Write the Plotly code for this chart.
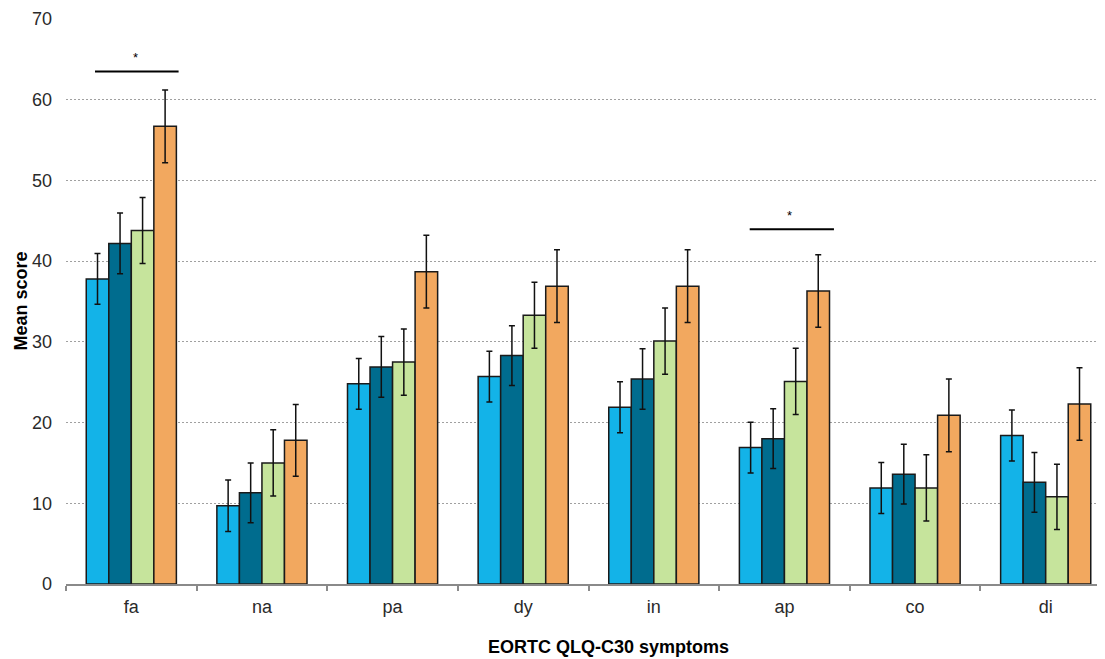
import plotly.graph_objects as go

categories = ["fa", "na", "pa", "dy", "in", "ap", "co", "di"]
series_names = ["Group 1", "Group 2", "Group 3", "Group 4"]
values_1 = [37.8, 9.7, 24.8, 25.7, 21.9, 16.9, 11.9, 18.4]
values_2 = [42.2, 11.3, 26.9, 28.3, 25.4, 18.0, 13.6, 12.6]
values_3 = [43.8, 15.0, 27.5, 33.3, 30.1, 25.1, 11.9, 10.8]
values_4 = [56.7, 17.8, 38.7, 36.9, 36.9, 36.3, 20.9, 22.3]
errors_1 = [3.15, 3.2, 3.15, 3.15, 3.15, 3.15, 3.15, 3.15]
errors_2 = [3.75, 3.7, 3.75, 3.7, 3.75, 3.7, 3.7, 3.7]
errors_3 = [4.1, 4.1, 4.1, 4.1, 4.1, 4.1, 4.1, 4.05]
errors_4 = [4.5, 4.45, 4.5, 4.5, 4.5, 4.5, 4.5, 4.5]
colors = ["#13B3E8", "#006C8E", "#C6E49C", "#F2A85F"]

# significance brackets: (start, end) in category units and level
sig_x0 = [-0.278, 4.734]
sig_x1 = [0.362, 5.379]
sig_y = [63.5, 43.95]
sig_star_x = [0.03, 5.04]

all_values = [values_1, values_2, values_3, values_4]
all_errors = [errors_1, errors_2, errors_3, errors_4]

# page body has an 8px margin; compensate so the plot lands where the reference has it
W, H = 1097, 651
L, T, B, R = 58, 11, 75, 0
plot_w = W - L - R
plot_h = H - T - B

fig = go.Figure()
for name, vals, errs, col in zip(series_names, all_values, all_errors, colors):
    fig.add_trace(go.Bar(
        x=categories, y=vals, name=name,
        marker=dict(color=col, line=dict(color="#1a1a1a", width=1.5)),
        error_y=dict(type="data", array=errs, visible=True,
                     color="#111111", thickness=1.5, width=3),
    ))

for x0, x1, y, sx in zip(sig_x0, sig_x1, sig_y, sig_star_x):
    fig.add_shape(type="line", xref="x", yref="y", x0=x0, x1=x1, y0=y, y1=y,
                  line=dict(color="black", width=2))
    fig.add_annotation(x=sx, y=y, xref="x", yref="y", text="*", showarrow=False,
                       yanchor="bottom", yshift=4,
                       font=dict(family="Liberation Sans, Arial", size=13, color="black"))

fig.add_annotation(text="<b>EORTC QLQ-C30 symptoms</b>", xref="paper", yref="paper",
                   x=(608 - 66) / plot_w, y=-(647 - 584) / plot_h,
                   xanchor="center", yanchor="middle", showarrow=False,
                   font=dict(family="Liberation Sans, Arial", size=18, color="black"))
fig.add_annotation(text="<b>Mean score</b>", xref="paper", yref="paper",
                   x=-(66 - 20) / plot_w, y=0.5, textangle=-90,
                   xanchor="center", yanchor="middle", showarrow=False,
                   font=dict(family="Liberation Sans, Arial", size=18, color="black"))

fig.update_layout(
    width=W, height=H,
    margin=dict(l=L, r=R, t=T, b=B),
    paper_bgcolor="white", plot_bgcolor="white",
    barmode="group", bargap=0.31, bargroupgap=0,
    showlegend=False,
    font=dict(family="Liberation Sans, Arial", size=18, color="#2a2a2a"),
)
fig.update_xaxes(
    type="category", range=[-0.5, 7.454],
    showline=True, linecolor="#8a8a8a", linewidth=1.5,
    ticks="outside", tickson="boundaries", ticklen=5, tickcolor="#8a8a8a", tickwidth=1.5,
    showgrid=False, zeroline=False, ticklabelstandoff=6,
)
fig.update_yaxes(
    range=[0, 70], dtick=10, showgrid=True,
    gridcolor="#a0a0a0", griddash="2px,2px", gridwidth=1,
    showline=False, zeroline=False, ticks="", ticklabelstandoff=13,
)

fig.write_html("out.html")
